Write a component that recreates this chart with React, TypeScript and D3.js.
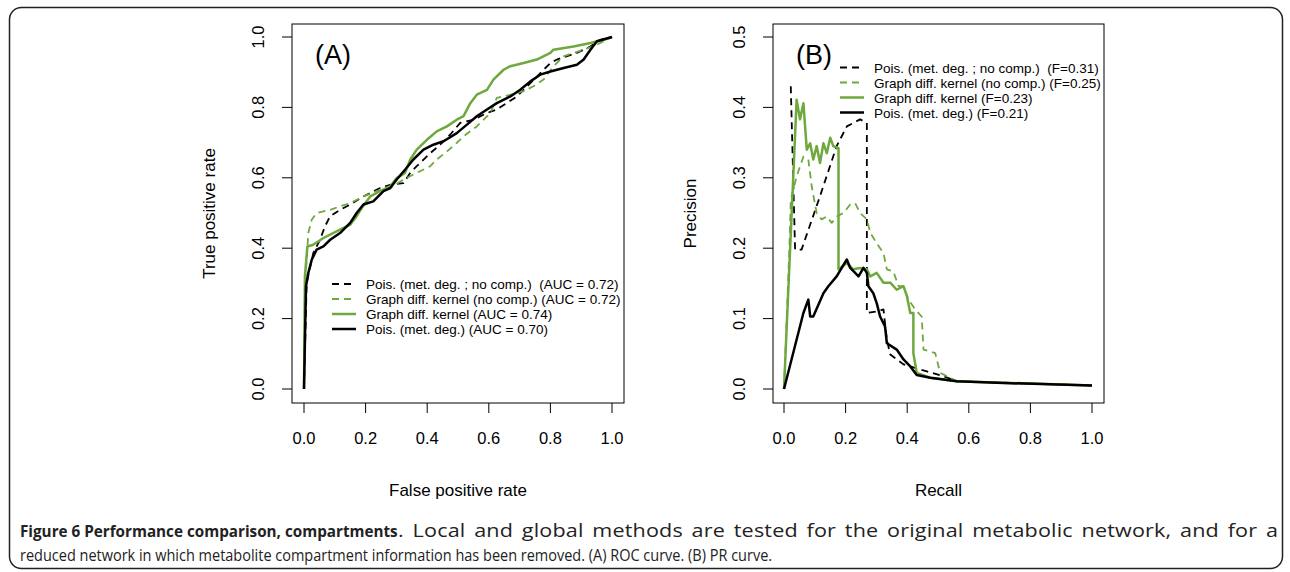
import React, { useLayoutEffect, useRef, useState } from "react";
import * as d3 from "d3";

// ---------- Data ----------
type Pt = [number, number];

// ROC curves: [false positive rate, true positive rate]
const rocPoisNoComp: Pt[] = [
  [0, 0], [0.0087, 0.301], [0.03, 0.386], [0.052, 0.424], [0.068, 0.462], [0.085, 0.491],
  [0.117, 0.509], [0.15, 0.524], [0.193, 0.547], [0.247, 0.571], [0.28, 0.58], [0.323, 0.585],
  [0.345, 0.614], [0.366, 0.633], [0.41, 0.67], [0.442, 0.694], [0.475, 0.723], [0.507, 0.756],
  [0.55, 0.765], [0.594, 0.784], [0.626, 0.794], [0.691, 0.831], [0.735, 0.869], [0.778, 0.907],
  [0.8, 0.926], [0.821, 0.936], [0.886, 0.955], [0.93, 0.973], [0.962, 0.992], [1, 1],
];
const rocKernelNoComp: Pt[] = [
  [0, 0], [0.003, 0.292], [0.014, 0.443], [0.025, 0.481], [0.041, 0.5], [0.085, 0.509],
  [0.117, 0.519], [0.15, 0.528], [0.193, 0.547], [0.236, 0.562], [0.28, 0.571], [0.323, 0.595],
  [0.366, 0.614], [0.41, 0.633], [0.431, 0.652], [0.464, 0.675], [0.496, 0.699], [0.518, 0.718],
  [0.561, 0.746], [0.605, 0.784], [0.626, 0.827], [0.67, 0.836], [0.713, 0.846], [0.745, 0.86],
  [0.778, 0.879], [0.81, 0.917], [0.843, 0.945], [0.908, 0.964], [0.951, 0.978], [1, 1],
];
const rocKernel: Pt[] = [
  [0, 0], [0.003, 0.32], [0.011, 0.405], [0.03, 0.41], [0.063, 0.429], [0.117, 0.453],
  [0.15, 0.467], [0.171, 0.491], [0.187, 0.514], [0.215, 0.547], [0.247, 0.562], [0.28, 0.576],
  [0.301, 0.599], [0.328, 0.614], [0.345, 0.652], [0.366, 0.68], [0.399, 0.708], [0.431, 0.732],
  [0.464, 0.746], [0.496, 0.765], [0.518, 0.775], [0.54, 0.812], [0.561, 0.836], [0.594, 0.85],
  [0.615, 0.879], [0.648, 0.907], [0.67, 0.917], [0.713, 0.926], [0.756, 0.936], [0.8, 0.955],
  [0.81, 0.964], [0.875, 0.973], [0.93, 0.983], [0.973, 0.992], [1, 1],
];
const rocPois: Pt[] = [
  [0, 0], [0.0065, 0.292], [0.014, 0.33], [0.025, 0.367], [0.041, 0.396], [0.063, 0.405],
  [0.085, 0.424], [0.117, 0.443], [0.15, 0.472], [0.171, 0.5], [0.193, 0.524], [0.225, 0.533],
  [0.258, 0.562], [0.28, 0.571], [0.301, 0.595], [0.328, 0.623], [0.355, 0.652], [0.388, 0.68],
  [0.42, 0.694], [0.453, 0.704], [0.496, 0.727], [0.529, 0.751], [0.561, 0.775], [0.594, 0.794],
  [0.626, 0.812], [0.67, 0.831], [0.702, 0.85], [0.735, 0.874], [0.767, 0.893], [0.8, 0.902],
  [0.843, 0.912], [0.886, 0.921], [0.908, 0.936], [0.93, 0.964], [0.951, 0.988], [1, 1],
];

// PR curves: [recall, precision]
const prPoisNoComp: Pt[] = [
  [0.022, 0.43], [0.036, 0.198], [0.057, 0.198], [0.117, 0.274], [0.171, 0.345], [0.204, 0.373],
  [0.247, 0.383], [0.269, 0.378], [0.269, 0.108], [0.301, 0.11], [0.323, 0.113], [0.334, 0.07],
  [0.345, 0.049], [0.388, 0.035], [0.464, 0.025], [0.518, 0.018], [0.561, 0.011], [1, 0.005],
];
const prKernelNoComp: Pt[] = [
  [0, 0], [0.017, 0.193], [0.022, 0.269], [0.041, 0.302], [0.063, 0.33], [0.079, 0.326],
  [0.09, 0.288], [0.106, 0.25], [0.122, 0.241], [0.139, 0.245], [0.155, 0.236], [0.171, 0.245],
  [0.193, 0.25], [0.215, 0.262], [0.231, 0.264], [0.247, 0.25], [0.269, 0.241], [0.28, 0.222],
  [0.301, 0.207], [0.323, 0.193], [0.334, 0.17], [0.355, 0.167], [0.372, 0.146], [0.388, 0.146],
  [0.404, 0.127], [0.426, 0.113], [0.447, 0.103], [0.453, 0.056], [0.491, 0.051], [0.507, 0.023],
  [0.561, 0.011], [1, 0.005],
];
const prKernel: Pt[] = [
  [0, 0], [0.041, 0.411], [0.052, 0.383], [0.063, 0.406], [0.074, 0.34], [0.085, 0.349],
  [0.095, 0.326], [0.106, 0.345], [0.117, 0.321], [0.128, 0.349], [0.139, 0.335], [0.15, 0.357],
  [0.16, 0.345], [0.177, 0.342], [0.177, 0.17], [0.204, 0.179], [0.225, 0.17], [0.247, 0.172],
  [0.269, 0.17], [0.28, 0.16], [0.301, 0.165], [0.323, 0.151], [0.345, 0.151], [0.366, 0.141],
  [0.388, 0.146], [0.399, 0.132], [0.41, 0.108], [0.42, 0.108], [0.42, 0.051], [0.431, 0.023],
  [0.475, 0.016], [0.561, 0.011], [1, 0.005],
];
const prPois: Pt[] = [
  [0, 0], [0.063, 0.108], [0.079, 0.127], [0.085, 0.103], [0.095, 0.103], [0.128, 0.136],
  [0.144, 0.146], [0.171, 0.16], [0.204, 0.184], [0.215, 0.172], [0.231, 0.165], [0.242, 0.16],
  [0.258, 0.172], [0.269, 0.165], [0.274, 0.146], [0.29, 0.136], [0.301, 0.122], [0.312, 0.103],
  [0.328, 0.089], [0.334, 0.065], [0.366, 0.056], [0.388, 0.042], [0.41, 0.032], [0.431, 0.02],
  [0.475, 0.016], [0.561, 0.011], [0.713, 0.0085], [1, 0.005],
];

const xTicks = [0, 0.2, 0.4, 0.6, 0.8, 1.0];
const rocYTicks = [0, 0.2, 0.4, 0.6, 0.8, 1.0];
const prYTicks = [0, 0.1, 0.2, 0.3, 0.4, 0.5];

const rocLegend = [
  "Pois. (met. deg. ; no comp.)  (AUC = 0.72)",
  "Graph diff. kernel (no comp.) (AUC = 0.72)",
  "Graph diff. kernel (AUC = 0.74)",
  "Pois. (met. deg.) (AUC = 0.70)",
];
const prLegend = [
  "Pois. (met. deg. ; no comp.)  (F=0.31)",
  "Graph diff. kernel (no comp.) (F=0.25)",
  "Graph diff. kernel (F=0.23)",
  "Pois. (met. deg.) (F=0.21)",
];

const captionBold = "Figure 6 Performance comparison, compartments";
const captionLine1 = ". Local and global methods are tested for the original metabolic network, and for a";
const captionLine2 =
  "reduced network in which metabolite compartment information has been removed. (A) ROC curve. (B) PR curve.";

const GREEN = "#6ea83e";
const BLACK = "#000000";
const styles = [
  { color: BLACK, dash: true },
  { color: GREEN, dash: true },
  { color: GREEN, dash: false },
  { color: BLACK, dash: false },
];

const FONT = "'Liberation Sans', Arial, sans-serif";
const CAPFONT = "'Open Sans', 'Noto Sans', sans-serif";

interface PanelProps {
  left: number;
  right: number;
  top: number;
  bottom: number;
  x0: number;
  x1: number;
  y0: number;
  y1: number;
  yMax: number;
  yTicks: number[];
  series: Pt[][];
  legend: string[];
  legendX: number;
  legendY: number;
  tag: string;
  xTitle: string;
  yTitle: string;
}

function Panel(p: PanelProps) {
  const x = d3.scaleLinear().domain([0, 1]).range([p.x0, p.x1]);
  const y = d3.scaleLinear().domain([0, p.yMax]).range([p.y0, p.y1]);
  const line = d3.line<Pt>().x((d) => x(d[0])).y((d) => y(d[1]));
  const fmt = d3.format(".1f");
  const tick = 10;
  const midX = (p.left + p.right) / 2;
  const midY = (p.top + p.bottom) / 2;
  return (
    <g>
      {p.series.map((s, i) => (
        <path
          key={i}
          d={line(s) || ""}
          fill="none"
          stroke={styles[i].color}
          strokeWidth={styles[i].dash ? 1.8 : 2.5}
          strokeDasharray={styles[i].dash ? "7,5" : undefined}
          strokeLinejoin="round"
        />
      ))}
      <rect
        x={p.left}
        y={p.top}
        width={p.right - p.left}
        height={p.bottom - p.top}
        fill="none"
        stroke="#000"
        strokeWidth={1}
      />
      {xTicks.map((t) => (
        <g key={"x" + t}>
          <line x1={x(t)} x2={x(t)} y1={p.bottom} y2={p.bottom + tick} stroke="#000" />
          <text x={x(t)} y={p.bottom + 41} textAnchor="middle" fontSize={16.5} fontFamily={FONT}>
            {fmt(t)}
          </text>
        </g>
      ))}
      {p.yTicks.map((t) => (
        <g key={"y" + t}>
          <line x1={p.left - tick} x2={p.left} y1={y(t)} y2={y(t)} stroke="#000" />
          <text
            transform={`translate(${p.left - 28},${y(t)}) rotate(-90)`}
            textAnchor="middle"
            fontSize={16.5}
            fontFamily={FONT}
          >
            {fmt(t)}
          </text>
        </g>
      ))}
      <text x={midX} y={496} textAnchor="middle" fontSize={17} fontFamily={FONT}>
        {p.xTitle}
      </text>
      <text
        transform={`translate(${p.left - 77},${midY}) rotate(-90)`}
        textAnchor="middle"
        fontSize={17}
        fontFamily={FONT}
      >
        {p.yTitle}
      </text>
      <text x={p.left + 23} y={64} fontSize={27} fontFamily={FONT}>
        {p.tag}
      </text>
      {p.legend.map((lab, i) => {
        const ly = p.legendY + i * 15;
        return (
          <g key={"l" + i}>
            <line
              x1={p.legendX}
              x2={p.legendX + 24}
              y1={ly}
              y2={ly}
              stroke={styles[i].color}
              strokeWidth={styles[i].dash ? 1.8 : 2.5}
              strokeDasharray={styles[i].dash ? "7,5" : undefined}
            />
            <text
              x={p.legendX + 34}
              y={ly + 5}
              fontSize={13.5}
              fontFamily={FONT}
              style={{ whiteSpace: "pre" }}
            >
              {lab}
            </text>
          </g>
        );
      })}
    </g>
  );
}

// Caption: each run is fitted to the extent it occupies in the reference.
const CAP_LEFT = 20;
const CAP_RIGHT = 1278;
const BOLD_END = 398;
const LINE2_END = 773;
const LINE1_WS = 3;
const BASE_FS = 16.5;

function Caption() {
  const bRef = useRef<SVGTextElement>(null);
  const l1 = useRef<SVGTextElement>(null);
  const l2 = useRef<SVGTextElement>(null);
  const [s1, setS1] = useState(1);
  const [fs1, setFs1] = useState(BASE_FS);
  const [s2, setS2] = useState(1);
  const [sb, setSb] = useState(1);
  useLayoutEffect(() => {
    if (!bRef.current || !l1.current || !l2.current) return;
    const w2 = l2.current.getComputedTextLength();
    const w1 = l1.current.getComputedTextLength();
    const wb = bRef.current.getComputedTextLength();
    if (!w2 || !w1 || !wb) return;
    const r = (CAP_RIGHT - BOLD_END) / w1;
    const f = Math.sqrt(r);
    setFs1(BASE_FS * f);
    setS1(r / f);
    setS2((LINE2_END - CAP_LEFT) / w2);
    setSb((BOLD_END - CAP_LEFT) / wb);
  }, []);
  return (
    <g fill="#222" fontFamily={CAPFONT}>
      <g transform={`translate(${CAP_LEFT},0) scale(${sb},1)`}>
        <text ref={bRef} x={0} y={537} fontWeight="bold" fontSize={BASE_FS}>
          {captionBold}
        </text>
      </g>
      <g transform={`translate(${BOLD_END},0) scale(${s1},1)`}>
        <text
          x={0}
          y={537}
          fontSize={fs1}
          style={{ wordSpacing: LINE1_WS / (fs1 / BASE_FS) }}
          textLength={s1 !== 1 ? (CAP_RIGHT - BOLD_END) / s1 : undefined}
          lengthAdjust="spacing"
        >
          {captionLine1}
        </text>
        <text ref={l1} x={0} y={-100} fontSize={BASE_FS} style={{ wordSpacing: LINE1_WS }} visibility="hidden">
          {captionLine1}
        </text>
      </g>
      <g transform={`translate(${CAP_LEFT},0) scale(${s2},1)`}>
        <text ref={l2} x={0} y={561} fontSize={BASE_FS}>
          {captionLine2}
        </text>
      </g>
    </g>
  );
}

export default function App() {
  return (
    <svg
      width={1290}
      height={572}
      style={{ position: "absolute", left: 0, top: 0, display: "block", background: "#fff" }}
    >
      <rect x={9.5} y={7.5} width={1273} height={561} rx={12} ry={12} fill="none" stroke="#222" strokeWidth={1.5} />
      <Panel
        left={292}
        right={624}
        top={24}
        bottom={403}
        x0={304}
        x1={612}
        y0={389}
        y1={37}
        yMax={1}
        yTicks={rocYTicks}
        series={[rocPoisNoComp, rocKernelNoComp, rocKernel, rocPois]}
        legend={rocLegend}
        legendX={332}
        legendY={284}
        tag="(A)"
        xTitle="False positive rate"
        yTitle="True positive rate"
      />
      <Panel
        left={773}
        right={1104}
        top={24}
        bottom={403}
        x0={784}
        x1={1092}
        y0={389}
        y1={37}
        yMax={0.5}
        yTicks={prYTicks}
        series={[prPoisNoComp, prKernelNoComp, prKernel, prPois]}
        legend={prLegend}
        legendX={840}
        legendY={67.5}
        tag="(B)"
        xTitle="Recall"
        yTitle="Precision"
      />
      <Caption />
    </svg>
  );
}
